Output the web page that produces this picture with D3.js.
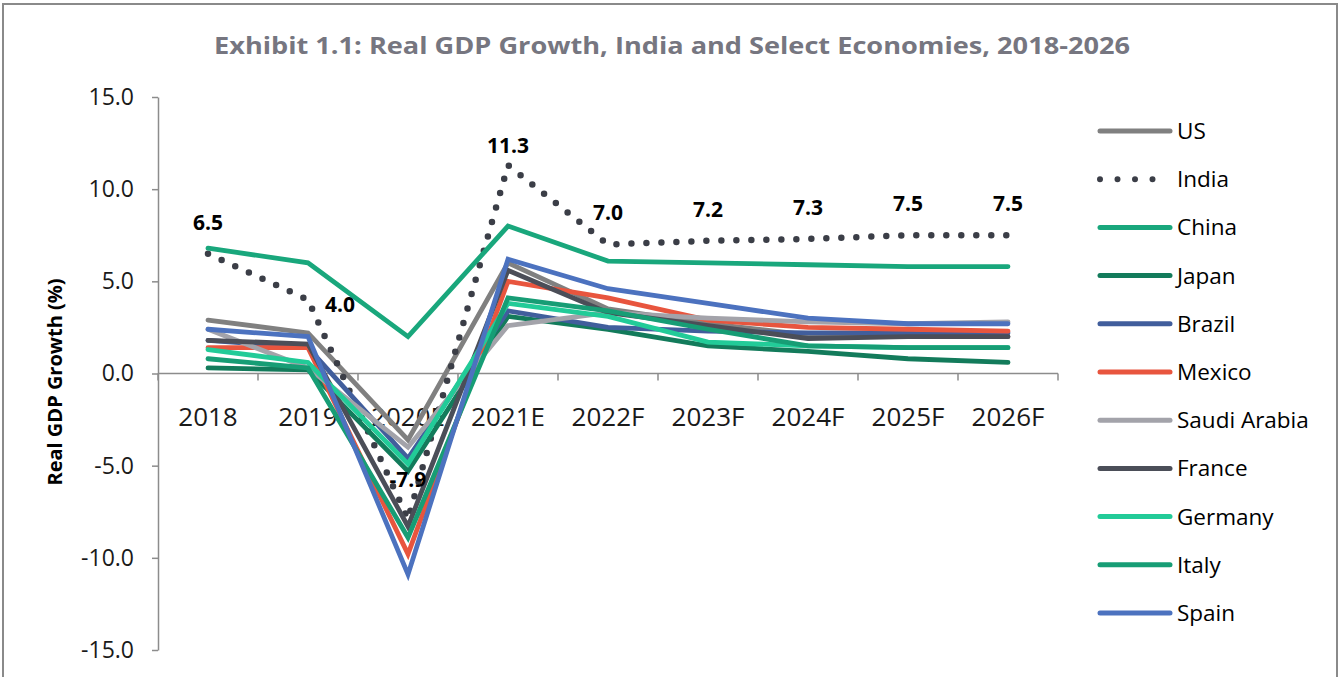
<!DOCTYPE html>
<html>
<head>
<meta charset="utf-8">
<script src="https://cdn.jsdelivr.net/npm/d3@7"></script>
<style>
  body { margin: 0; background: #fff; }
  svg { display: block; font-family: "Open Sans", "Noto Sans", sans-serif; }
</style>
</head>
<body>
<svg id="chart" width="1339" height="677"></svg>
<script>
// Categories and series (real GDP growth, %)
const years = ["2018", "2019", "2020E", "2021E", "2022F", "2023F", "2024F", "2025F", "2026F"];
const us          = [2.9, 2.2, -3.6, 6.0, 3.5, 2.7, 2.1, 2.0, 2.0];
const india       = [6.5, 4.0, -7.9, 11.3, 7.0, 7.2, 7.3, 7.5, 7.5];
const china       = [6.8, 6.0, 2.0, 8.0, 6.1, 6.0, 5.9, 5.8, 5.8];
const japan       = [0.3, 0.2, -5.3, 3.1, 2.4, 1.5, 1.2, 0.8, 0.6];
const brazil      = [1.8, 1.4, -4.6, 3.4, 2.5, 2.3, 2.2, 2.2, 2.2];
const mexico      = [1.4, 1.4, -9.8, 5.0, 4.1, 2.9, 2.5, 2.4, 2.3];
const saudiArabia = [2.4, 0.3, -4.0, 2.6, 3.3, 3.0, 2.8, 2.7, 2.8];
const france      = [1.8, 1.6, -8.3, 5.6, 3.3, 2.6, 1.9, 2.0, 2.0];
const germany     = [1.3, 0.6, -4.9, 3.8, 3.1, 1.7, 1.5, 1.4, 1.4];
const italy       = [0.8, 0.3, -8.9, 4.1, 3.4, 2.4, 1.5, 1.4, 1.4];
const spain       = [2.4, 2.0, -10.9, 6.2, 4.6, 3.8, 3.0, 2.7, 2.7];
const yTicks = [-15, -10, -5, 0, 5, 10, 15];

const series = [
  { name: "US", values: us, color: "#808080" },
  { name: "India", values: india, color: "#3b3e47", dotted: true },
  { name: "China", values: china, color: "#19a77c" },
  { name: "Japan", values: japan, color: "#137b5b" },
  { name: "Brazil", values: brazil, color: "#415e9c" },
  { name: "Mexico", values: mexico, color: "#e8553e" },
  { name: "Saudi Arabia", values: saudiArabia, color: "#a3a3aa" },
  { name: "France", values: france, color: "#4b4e58" },
  { name: "Germany", values: germany, color: "#22cb98" },
  { name: "Italy", values: italy, color: "#179d75" },
  { name: "Spain", values: spain, color: "#4c72bf" }
];

// plain hyphen for negatives, one decimal
const fmt = v => d3.format(".1f")(v).replace("\u2212", "-");

const svg = d3.select("#chart");

// outer frame
svg.append("rect")
  .attr("x", 3).attr("y", 4)
  .attr("width", 1334).attr("height", 700)
  .attr("fill", "none")
  .attr("stroke", "#8a8a8a")
  .attr("stroke-width", 2);

// title
svg.append("text")
  .attr("x", 672).attr("y", 54)
  .attr("text-anchor", "middle")
  .attr("font-size", 24)
  .attr("font-weight", "bold")
  .attr("fill", "#767680")
  .attr("textLength", 916)
  .attr("lengthAdjust", "spacingAndGlyphs")
  .text("Exhibit 1.1: Real GDP Growth, India and Select Economies, 2018-2026");

// scales
const x = d3.scaleBand().domain(years).range([158, 1058]);
const y = d3.scaleLinear().domain([-15, 15]).range([650, 97]);
const cx = d => x(d) + x.bandwidth() / 2;

// y axis
const yAxis = svg.append("g")
  .attr("transform", "translate(158,0)")
  .call(d3.axisLeft(y).tickValues(yTicks).tickFormat(fmt).tickSize(6).tickSizeOuter(0).tickPadding(18));
yAxis.select(".domain").attr("stroke", "#8c8c8c").attr("stroke-width", 1.5);
yAxis.selectAll(".tick line").attr("stroke", "#8c8c8c").attr("stroke-width", 1.5);
yAxis.selectAll(".tick text")
  .attr("font-size", 23)
  .attr("fill", "#1a1a1a")
  .attr("font-family", "Open Sans, sans-serif");

// y axis title
svg.append("text")
  .attr("transform", "translate(62,382) rotate(-90)")
  .attr("text-anchor", "middle")
  .attr("font-size", 20)
  .attr("font-weight", "bold")
  .attr("fill", "#000")
  .text("Real GDP Growth (%)");

// x axis at zero
const x0 = y(0);
const xAxis = svg.append("g").attr("transform", `translate(0,${x0})`);
xAxis.append("line")
  .attr("x1", 158).attr("x2", 1058)
  .attr("stroke", "#8c8c8c").attr("stroke-width", 1.5);
xAxis.selectAll(".btick")
  .data(years.concat(["end"]))
  .enter().append("line")
  .attr("class", "btick")
  .attr("x1", (d, i) => i < years.length ? x(d) : 1058)
  .attr("x2", (d, i) => i < years.length ? x(d) : 1058)
  .attr("y1", 0).attr("y2", 7)
  .attr("stroke", "#8c8c8c").attr("stroke-width", 1.5);
xAxis.selectAll(".xlabel")
  .data(years)
  .enter().append("text")
  .attr("class", "xlabel")
  .attr("x", d => cx(d))
  .attr("y", 52)
  .attr("text-anchor", "middle")
  .attr("font-size", 26)
  .attr("fill", "#1a1a1a")
  .text(d => d);

// lines
const line = d3.line()
  .x((v, i) => cx(years[i]))
  .y(v => y(v));

svg.selectAll(".series")
  .data(series)
  .enter().append("path")
  .attr("class", "series")
  .attr("fill", "none")
  .attr("stroke", d => d.color)
  .attr("stroke-width", d => d.dotted ? 6.5 : 4.8)
  .attr("stroke-linecap", "round")
  .attr("stroke-linejoin", d => d.dotted ? "round" : "miter")
  .attr("stroke-dasharray", d => d.dotted ? "0,15" : null)
  .attr("d", d => line(d.values));

// India data labels
const labelOffset = { "2019": [32, 12], "2020E": [0, -32], "2021E": [0, -12] };
svg.selectAll(".ilabel")
  .data(india)
  .enter().append("text")
  .attr("class", "ilabel")
  .attr("x", (v, i) => cx(years[i]) + (labelOffset[years[i]] ? labelOffset[years[i]][0] : 0))
  .attr("y", (v, i) => y(v) + (labelOffset[years[i]] ? labelOffset[years[i]][1] : -24))
  .attr("text-anchor", "middle")
  .attr("font-size", 21)
  .attr("font-weight", "bold")
  .attr("fill", "#000")
  .text(v => fmt(v));

// legend
const legend = svg.append("g").selectAll(".leg")
  .data(series)
  .enter().append("g")
  .attr("class", "leg")
  .attr("transform", (d, i) => `translate(1100,${131 + i * 48.2})`);
legend.append("line")
  .attr("x1", 0).attr("x2", 70)
  .attr("stroke", d => d.color)
  .attr("stroke-width", d => d.dotted ? 6 : 5)
  .attr("stroke-linecap", "round")
  .attr("stroke-dasharray", d => d.dotted ? "0,17.5" : null);
legend.append("text")
  .attr("x", 77).attr("y", 8)
  .attr("font-size", 22.5)
  .attr("fill", "#000")
  .text(d => d.name);
</script>
</body>
</html>
